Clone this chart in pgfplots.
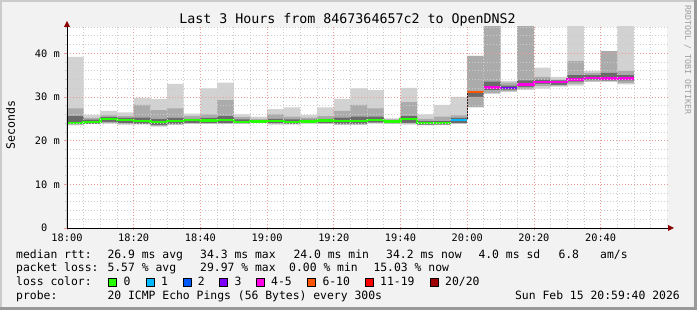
\documentclass[border=0pt]{standalone}
\usepackage{pgfplots}
\usepackage{pgfplotstable}
\pgfplotsset{compat=1.18}
\usepackage{fontspec}
\setmainfont{DejaVu Sans Mono}

\definecolor{bg}{HTML}{F2F2F2}
\definecolor{shadea}{HTML}{CBCBCB}
\definecolor{shadeb}{HTML}{999999}
\definecolor{mgrid}{HTML}{EC9A9A}
\definecolor{mngrid}{HTML}{CCCCCC}
\definecolor{smokeL}{HTML}{D2D2D2}
\definecolor{smokeM}{HTML}{ABABAB}
\definecolor{smokeD}{HTML}{6A6A6A}
\definecolor{lossA}{HTML}{26FF00}
\definecolor{lossB}{HTML}{00B8FF}
\definecolor{lossC}{HTML}{0059FF}
\definecolor{lossD}{HTML}{7E00FF}
\definecolor{lossE}{HTML}{FF00E6}
\definecolor{lossF}{HTML}{FF5500}
\definecolor{lossG}{HTML}{FF0000}
\definecolor{lossH}{HTML}{A00000}
\definecolor{arrowc}{HTML}{8B0000}

% smoke per 5-minute bar (x = bar centre, minutes after 18:00), values in ms
\pgfplotstableread{
x     max   hi    dhi   dlo   mlo   min
2.5   39.2  27.4  25.6  23.8  23.7  23.5
7.5   25.9  25.2  24.8  23.9  23.8  23.8
12.5  26.8  25.8  25.4  24.3  24.0  23.9
17.5  26.5  25.6  25.2  24.0  23.8  23.6
22.5  29.8  28.2  25.3  23.9  23.8  23.7
27.5  29.5  27.0  25.0  23.6  23.4  23.2
32.5  33.0  27.4  25.2  23.9  23.7  23.6
37.5  26.2  25.6  25.0  24.1  23.9  23.8
42.5  32.0  26.0  25.2  24.0  23.9  23.8
47.5  33.3  29.3  25.6  24.0  23.9  23.8
52.5  26.0  25.4  24.9  24.0  23.9  23.8
57.5  25.5  25.0  24.7  24.2  24.1  24.0
62.5  27.2  26.0  25.0  24.0  23.8  23.7
67.5  27.6  25.5  24.9  23.9  23.8  23.7
72.5  25.9  25.3  24.8  24.0  23.9  23.9
77.5  27.6  25.6  25.0  24.0  23.9  23.8
82.5  29.5  26.8  25.3  23.9  23.7  23.6
87.5  32.0  28.2  25.5  23.9  23.7  23.6
92.5  31.6  27.4  25.5  24.2  24.0  23.9
97.5  25.1  24.9  24.7  24.0  23.9  23.8
102.5 32.1  28.8  25.6  24.1  23.9  23.7
107.5 26.0  25.0  24.5  23.7  23.6  23.5
112.5 28.2  25.5  24.5  23.7  23.6  23.6
117.5 30.0  25.8  25.2  24.0  23.9  23.8
122.5 39.4  39.4  31.0  30.0  27.6  27.6
127.5 50.0  50.0  33.5  31.6  30.8  30.8
132.5 33.7  33.3  32.6  31.7  31.3  31.2
137.5 50.0  50.0  33.8  32.3  31.8  31.6
142.5 36.7  34.6  34.0  33.0  32.5  31.9
147.5 34.6  34.0  33.8  32.8  32.6  32.4
152.5 50.0  38.2  35.0  33.5  33.0  32.6
157.5 36.0  35.5  35.0  34.0  33.6  33.4
162.5 40.5  40.5  35.5  33.8  33.5  33.5
167.5 50.0  36.0  35.0  33.8  33.2  32.9
}\smoke

\begin{document}
\begin{tikzpicture}
\fill[bg] (0pt,0pt) rectangle (697pt,310pt);
\fill[shadea] (0pt,308pt) rectangle (697pt,310pt);
\fill[shadea] (0pt,0pt) rectangle (2pt,310pt);
\fill[shadeb] (694pt,0pt) rectangle (697pt,310pt);
\fill[shadeb] (0pt,0pt) rectangle (697pt,3pt);

\begin{axis}[
  at={(67pt,82pt)}, anchor=south west,
  scale only axis, width=600.3pt, height=201.3pt,
  xmin=0, xmax=180, ymin=0, ymax=46.1,
  axis background/.style={fill=white},
  axis line style={draw=none},
  axis on top,
  tick pos=left, tick align=outside,
  major tick length=2.5pt, minor tick length=1.5pt,
  major tick style={mgrid, line width=0.8pt},
  minor tick style={mngrid, line width=0.8pt},
  xtick={0,20,...,160},
  xticklabels={18:00,18:20,18:40,19:00,19:20,19:40,20:00,20:20,20:40},
  minor xtick={5,10,15,25,30,35,45,50,55,65,70,75,85,90,95,105,110,115,125,130,135,145,150,155,165,170,175},
  ytick={0,10,20,30,40},
  yticklabels={0\phantom{\ m},10 m,20 m,30 m,40 m},
  minor ytick={2,4,6,8,12,14,16,18,22,24,26,28,32,34,36,38,42,44,46},
  grid=both,
  major grid style={mgrid, line width=0.8pt, dash pattern=on 1.2pt off 1.8pt},
  minor grid style={mngrid, line width=0.8pt, dash pattern=on 1.2pt off 1.8pt},
  xticklabel style={font=\fontsize{10.3}{12}\selectfont, anchor=base, inner sep=0pt, yshift=-11pt},
  yticklabel style={font=\fontsize{10.3}{12}\selectfont, anchor=east, inner sep=0pt, xshift=-4.5pt},
]
\addplot[ybar, bar width=5, bar shift=0pt, fill=smokeL, draw=none] table[x=x,y=max] {\smoke};
\addplot[ybar, bar width=5, bar shift=0pt, fill=smokeM, draw=none] table[x=x,y=hi] {\smoke};
\addplot[ybar, bar width=5, bar shift=0pt, fill=smokeD, draw=none] table[x=x,y=dhi] {\smoke};
\addplot[ybar, bar width=5, bar shift=0pt, fill=smokeM, draw=none] table[x=x,y=dlo] {\smoke};
\addplot[ybar, bar width=5, bar shift=0pt, fill=smokeL, draw=none] table[x=x,y=mlo] {\smoke};
\addplot[ybar, bar width=5, bar shift=0pt, fill=white, draw=none] table[x=x,y=min] {\smoke};
% median rtt, coloured by packet loss
\addplot[black!85, line width=0.8pt] coordinates {(120,24.8) (120,31.1)};
\addplot[const plot, lossA, line width=2.4pt, mark=none] coordinates {
(0,24.1)(5,24.3)(10,25.0)(15,24.7)(20,24.5)(25,24.3)(30,24.5)(35,24.7)(40,24.6)(45,24.7)
(50,24.3)(55,24.4)(60,24.5)(65,24.3)(70,24.4)(75,24.6)(80,24.5)(85,24.5)(90,24.8)(95,24.4)
(100,24.9)(105,24.0)(110,24.0)(115,24.0)};
\addplot[const plot, lossB, line width=2.4pt, mark=none] coordinates {(115,24.8)(120,24.8)};
\addplot[const plot, lossF, line width=2.4pt, mark=none] coordinates {(120,31.1)(125,31.1)};
\addplot[const plot, lossE, line width=2.4pt, mark=none] coordinates {(125,32.2)(130,32.2)};
\addplot[const plot, lossD, line width=2.4pt, mark=none] coordinates {(130,32.1)(135,32.1)};
\addplot[const plot, lossE, line width=2.4pt, mark=none] coordinates {
(135,32.9)(140,33.5)(145,33.4)(150,34.0)(155,34.3)(160,34.2)(165,34.2)(170,34.2)};
\end{axis}

% axes with arrows
\draw[black, line width=0.8pt] (67pt,82pt) -- (669pt,82pt);
\draw[black, line width=0.8pt] (67pt,82pt) -- (67pt,285pt);
\fill[arrowc] (668pt,79pt) -- (674pt,82pt) -- (668pt,85pt) -- cycle;
\fill[arrowc] (64pt,283pt) -- (67pt,289pt) -- (70pt,283pt) -- cycle;

% title and labels
\node[anchor=base, inner sep=0pt, font=\fontsize{13.3}{15}\selectfont] at (347.5pt,286pt) {Last 3 Hours from 8467364657c2 to OpenDNS2};
\node[rotate=90, anchor=base, inner sep=0pt, font=\fontsize{11.6}{13}\selectfont] at (15pt,185pt) {Seconds};
\node[rotate=-90, anchor=base, inner sep=0pt, text=black!38, font=\fontsize{8.3}{10}\selectfont] at (685pt,250pt) {RRDTOOL / TOBI OETIKER};

% legend
\begin{scope}[every node/.style={anchor=base west, inner sep=0pt, font=\fontsize{11.4}{13}\selectfont}]
\node at (16pt,51.7pt) {median rtt:};
\node at (107.3pt,51.7pt) {26.9 ms avg};
\node at (200pt,51.7pt) {34.3 ms max};
\node at (293.3pt,51.7pt) {24.0 ms min};
\node at (386pt,51.7pt) {34.2 ms now};
\node at (478.3pt,51.7pt) {4.0 ms sd};
\node at (558.3pt,51.7pt) {6.8};
\node at (600pt,51.7pt) {am/s};

\node at (16pt,38pt) {packet loss:};
\node at (107.3pt,38pt) {5.57 \% avg};
\node at (200pt,38pt) {29.97 \% max};
\node at (289pt,38pt) {0.00 \% min};
\node at (373.3pt,38pt) {15.03 \% now};

\node at (16pt,24.3pt) {loss color:};
\node at (123.3pt,24.3pt) {0};
\node at (161pt,24.3pt) {1};
\node at (197.7pt,24.3pt) {2};
\node at (234.3pt,24.3pt) {3};
\node at (271pt,24.3pt) {4-5};
\node at (322.3pt,24.3pt) {6-10};
\node at (380pt,24.3pt) {11-19};
\node at (445pt,24.3pt) {20/20};

\node at (16pt,10.6pt) {probe:};
\node at (107.3pt,10.6pt) {20 ICMP Echo Pings (56 Bytes) every 300s};
\node[anchor=base east] at (680pt,10.6pt) {Sun Feb 15 20:59:40 2026};
\end{scope}
\begin{scope}[line width=0.6pt]
\filldraw[fill=lossA, draw=black] (108.6pt,23.6pt) rectangle ++(7.8pt,7.8pt);
\filldraw[fill=lossB, draw=black] (146pt,23.6pt) rectangle ++(7.8pt,7.8pt);
\filldraw[fill=lossC, draw=black] (183pt,23.6pt) rectangle ++(7.8pt,7.8pt);
\filldraw[fill=lossD, draw=black] (219.6pt,23.6pt) rectangle ++(7.8pt,7.8pt);
\filldraw[fill=lossE, draw=black] (256.3pt,23.6pt) rectangle ++(7.8pt,7.8pt);
\filldraw[fill=lossF, draw=black] (307.6pt,23.6pt) rectangle ++(7.8pt,7.8pt);
\filldraw[fill=lossG, draw=black] (365.3pt,23.6pt) rectangle ++(7.8pt,7.8pt);
\filldraw[fill=lossH, draw=black] (430.3pt,23.6pt) rectangle ++(7.8pt,7.8pt);
\end{scope}
\end{tikzpicture}
\end{document}
